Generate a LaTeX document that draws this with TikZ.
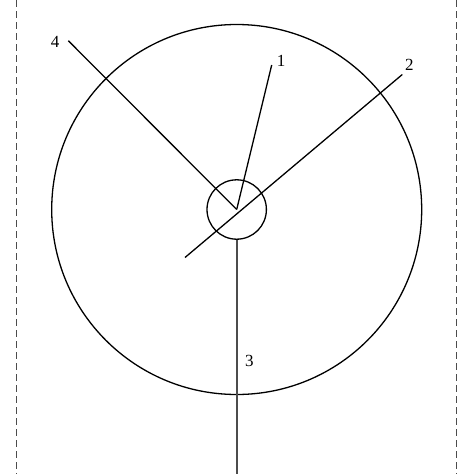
\documentclass[tikz,border=0pt]{standalone}
\usepackage{fontspec}
\setmainfont{Liberation Serif}
\usetikzlibrary{positioning}

\tikzset{
	rim/.style={line width=1.3pt},
	ray/.style={line width=1.3pt},
	shaft/.style={line width=1.9pt, black!70},
	frame/.style={line width=1.3pt, black!70, dash pattern=on 7pt off 4pt},
	tag/.style={font=\fontsize{17}{19}\selectfont, inner sep=0pt}
}

\begin{document}
\begin{tikzpicture}[x=1pt,y=-1pt]
	\useasboundingbox (0,0) rectangle (474,474);
	% frame
	\draw[frame] (16.5,0) -- (16.5,474);
	\draw[frame] (456.5,0) -- (456.5,474);
	
	\coordinate (O) at (236.7,209.5);
	\draw[rim] (O) circle (185pt);
	\node[draw, circle, rim, minimum size=59.4pt, inner sep=0pt] (hub) at (O) {};
	
	% rays
	\coordinate (r1) at (271.7,65);
	\coordinate (r2a) at (185,257.5);
	\coordinate (r2b) at (402.3,74.5);
	\coordinate (r4) at (68.3,40.7);
	\coordinate (r3) at (236.7,474);
	
	\draw[ray] (O) -- (r1);
	\draw[ray] (r2a) -- (r2b);
	\draw[ray] (O) -- (r4);
	\draw[shaft] (hub.south) -- (r3);
	
	\node[tag] (t1) at (281,61) {1};
	\node[tag] (t2) at (409.3,65) {2};
	\node[tag] (t3) at (249.3,361) {3};
	\node[tag] (t4) at (55,42) {4};
	
\end{tikzpicture}
\end{document}
